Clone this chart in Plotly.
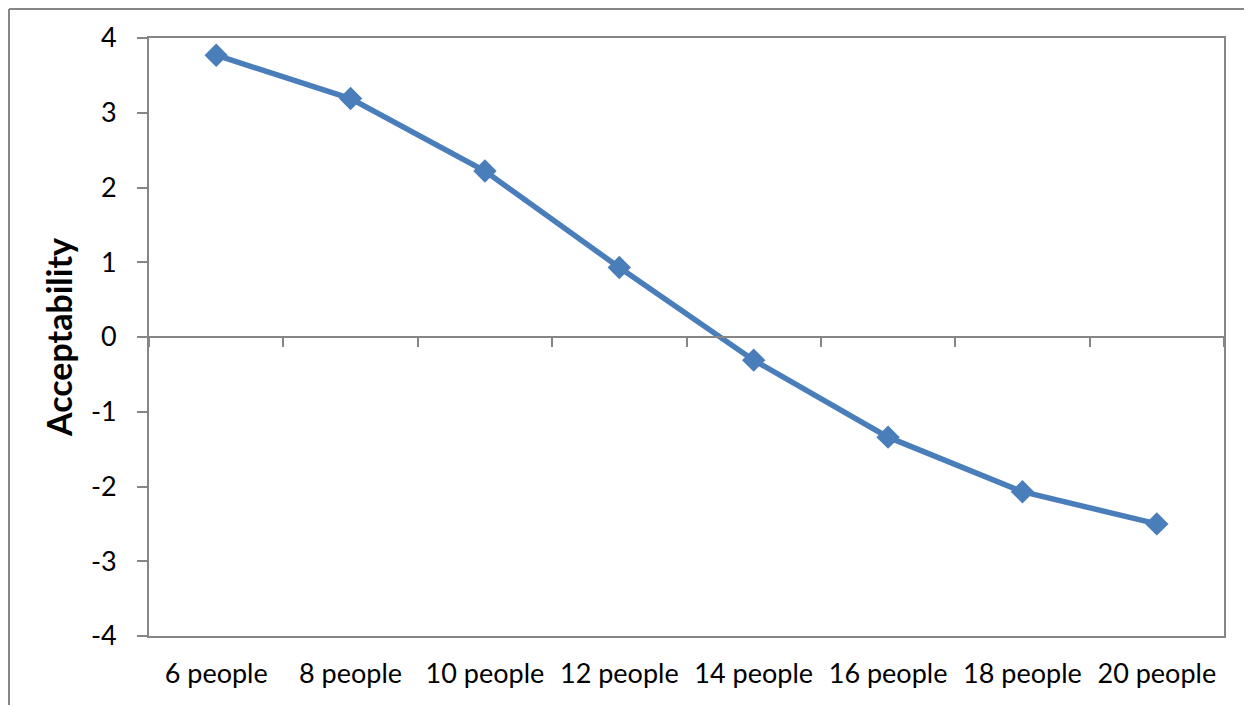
import plotly.graph_objects as go

categories = ["6 people", "8 people", "10 people", "12 people",
              "14 people", "16 people", "18 people", "20 people"]
acceptability = [3.77, 3.19, 2.22, 0.93, -0.31, -1.34, -2.07, -2.50]
y_ticks = [-4, -3, -2, -1, 0, 1, 2, 3, 4]

LINE = "#4A7EBB"
AXIS = "#868686"
FONT = "Lato"

# page offset of the figure inside the browser body
OFF = 8
ML, MT = 149 - OFF, 38 - OFF
MR, MB = 28 + OFF, 69 + OFF
PW = 1252 - ML - MR
PH = 705 - MT - MB

fig = go.Figure()
fig.add_trace(go.Scatter(
    x=categories, y=acceptability, mode="lines+markers",
    line=dict(color=LINE, width=5.5),
    marker=dict(symbol="diamond", size=18, color=LINE),
    showlegend=False, hoverinfo="x+y",
))
# helper trace so the zero-crossing category axis is drawn
fig.add_trace(go.Scatter(
    x=categories, y=[None] * len(categories), xaxis="x2",
    showlegend=False, hoverinfo="skip",
))

border_x = -(ML - 1) / PW
border_y = (PH + MT - 1) / PH

fig.update_layout(
    width=1252, height=705,
    margin=dict(l=ML, r=MR, t=MT, b=MB, autoexpand=False),
    paper_bgcolor="white", plot_bgcolor="white",
    font=dict(family=FONT, color="black", size=27),
    xaxis=dict(
        type="category", categoryorder="array", categoryarray=categories,
        range=[-0.5, len(categories) - 0.5],
        showline=True, linecolor=AXIS, linewidth=2, mirror=True,
        showgrid=False, zeroline=False, ticks="",
        tickfont=dict(family=FONT, size=27, color="black"),
        ticklabelstandoff=13,
    ),
    xaxis2=dict(
        type="category", categoryorder="array", categoryarray=categories,
        range=[-0.5, len(categories) - 0.5],
        overlaying="x", anchor="free", position=0.5, side="bottom",
        showline=True, linecolor=AXIS, linewidth=2,
        ticks="outside", tickson="boundaries", ticklen=9, tickwidth=2,
        tickcolor=AXIS, showticklabels=False, showgrid=False, zeroline=False,
    ),
    yaxis=dict(
        range=[-4, 4], tickvals=y_ticks, ticktext=[str(v) for v in y_ticks],
        showline=True, linecolor=AXIS, linewidth=2, mirror=True,
        showgrid=False, zeroline=False,
        ticks="outside", ticklen=10, tickwidth=2, tickcolor=AXIS,
        tickfont=dict(family=FONT, size=27, color="black"),
        ticklabelstandoff=15,
        title=dict(text="<b>Acceptability</b>", standoff=8,
                   font=dict(family=FONT, size=34, color="black")),
    ),
    shapes=[
        dict(type="line", xref="paper", yref="paper",
             x0=border_x, x1=border_x, y0=border_y, y1=-(MB + 20) / PH,
             line=dict(color=AXIS, width=2)),
        dict(type="line", xref="paper", yref="paper",
             x0=border_x, x1=1 + (MR + 20) / PW, y0=border_y, y1=border_y,
             line=dict(color=AXIS, width=2)),
    ],
)

fig.write_html("out.html")
